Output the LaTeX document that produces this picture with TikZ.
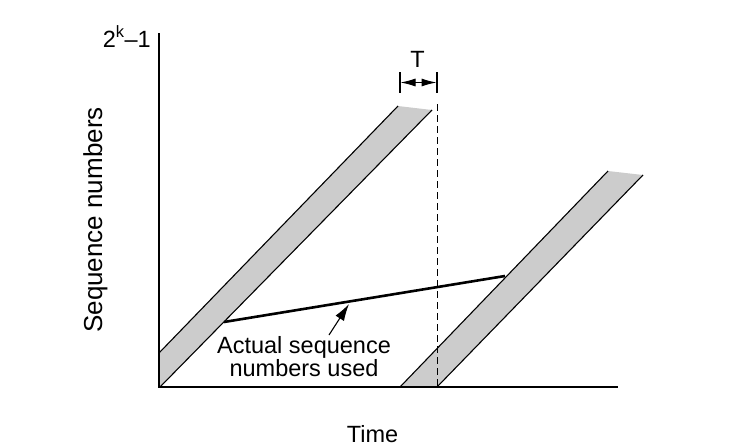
\documentclass[tikz,border=0pt]{standalone}
\usepackage{fontspec}
\setmainfont{Liberation Sans}
\usetikzlibrary{arrows.meta}
\begin{document}
\begin{tikzpicture}[x=1pt,y=-1pt,
  axis/.style={line width=1.4pt},
  band/.style={fill=black!20, draw=none},
  edge/.style={line width=1.1pt},
  lbl/.style={font=\fontsize{23.5}{23}\selectfont, inner sep=0pt},
]
\useasboundingbox (0,0) rectangle (732,447);
% coordinates
\coordinate (O) at (159,387);
\coordinate (ytop) at (159,33);
\coordinate (xend) at (618,387);
\coordinate (a1) at (159,353);
\coordinate (a2) at (398,106);
\coordinate (a3) at (432,110);
\coordinate (a4) at (160,387);
\coordinate (b1) at (400,387);
\coordinate (b2) at (608,171);
\coordinate (b3) at (643,175);
\coordinate (b4) at (437,387);
% bands
\fill[band] (a1) -- (a2) -- (a3) -- (a4) -- (O) -- cycle;
\fill[band] (b1) -- (b2) -- (b3) -- (b4) -- cycle;
\draw[edge] (a1) -- (a2);
\draw[edge] (a4) -- (a3);
\draw[edge] (b1) -- (b2);
\draw[edge] (b4) -- (b3);
% dashed line
\coordinate (dtop) at (437,104);
\draw[line width=1pt, dash pattern=on 7pt off 4pt] (dtop) -- (b4);
% axes
\draw[axis] (ytop) -- (O) -- (xend);
% T marker
\coordinate (t1a) at (400,72); \coordinate (t1b) at (400,93);
\coordinate (t2a) at (437,72); \coordinate (t2b) at (437,93);
\draw[line width=1.2pt] (t1a) -- (t1b);
\draw[line width=1.2pt] (t2a) -- (t2b);
\coordinate (ta) at (400.5,82.5); \coordinate (tb) at (436.5,82.5);
\draw[line width=1pt, {Latex[length=15pt,width=8pt]}-{Latex[length=15pt,width=8pt]}] (ta) -- (tb);
\node[lbl, anchor=base] (T) at (417.5,67) {T};
% thick line
\coordinate (s1) at (224,322);
\coordinate (s2) at (505,276);
\draw[line width=2.6pt] (s1) -- (s2);
% annotation
\node[lbl, align=center, anchor=base] (act) at (304,376) {Actual sequence\\numbers used};
\coordinate (p1) at (329,335);
\coordinate (p2) at (349,304);
\draw[line width=1.1pt, -{Latex[length=17pt,width=10pt]}] (p1) -- (p2);
% labels
\node[lbl, anchor=base] (time) at (372.5,442) {Time};
\node[lbl, anchor=base, rotate=90, font=\fontsize{26}{26}\selectfont] (seq) at (102,220) {Sequence numbers};
\node[lbl, anchor=base east] (max) at (151,47) {2\textsuperscript{k}–1};
\end{tikzpicture}
\end{document}
